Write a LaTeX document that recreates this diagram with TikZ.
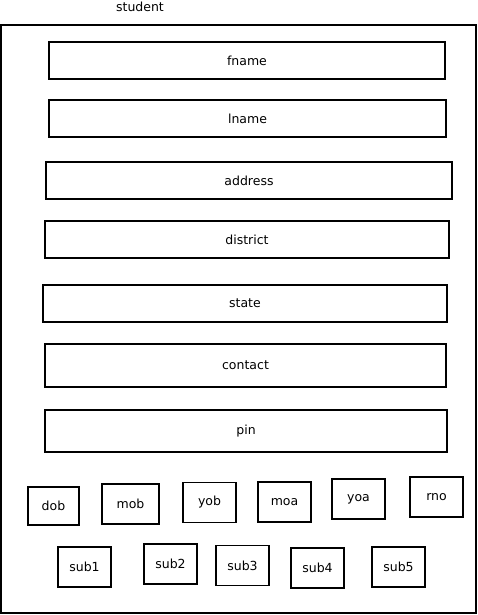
\documentclass[tikz,border=0pt]{standalone}
\usepackage{fontspec}
\setmainfont{DejaVu Sans}
\usetikzlibrary{positioning}

\tikzset{
  field/.style={draw, line width=1.5pt, inner sep=0pt, minimum height=37pt,
    font=\fontsize{12.5}{15}\selectfont},
  small/.style={field, minimum width=52pt, minimum height=39pt}
}

\begin{document}
\begin{tikzpicture}[x=1pt,y=-1pt]
  \useasboundingbox (0,0) rectangle (478,615);

  % Outer entity box
  \node[draw, line width=2pt, minimum width=475pt, minimum height=588pt] (student) at (238.5,319) {};
  \node[font=\fontsize{12.5}{15}\selectfont] (title) at (140,7) {student};

  % Long fields
  \node[field, minimum width=396pt] (fname) at (247,60.5) {fname};
  \node[field, minimum width=397pt] (lname) at (247.5,118.5) {lname};
  \node[field, minimum width=406pt] (address) at (249,180.5) {address};
  \node[field, minimum width=404pt] (district) at (247,239.5) {district};
  \node[field, minimum width=404pt] (state) at (245,303.5) {state};
  \node[field, minimum width=401pt, minimum height=43pt] (contact) at (245.5,365.5) {contact};
  \node[field, minimum width=402pt, minimum height=42pt] (pin) at (246,431) {pin};

  % Date and number fields
  \node[small, minimum width=51pt, minimum height=38pt] (dob) at (53.5,506) {dob};
  \node[small, minimum width=57pt, minimum height=40pt] (mob) at (130.5,504) {mob};
  \node[small, minimum width=53pt, minimum height=40pt] (yob) at (209.5,502.5) {yob};
  \node[small, minimum width=53pt, minimum height=40pt] (moa) at (284.5,502) {moa};
  \node[small, minimum width=53pt, minimum height=40pt] (yoa) at (358.5,499) {yoa};
  \node[small, minimum width=53pt, minimum height=40pt] (rno) at (436.5,497) {rno};

  % Subjects
  \node[small, minimum width=53pt, minimum height=40pt] (sub1) at (84.5,567) {sub1};
  \node[small, minimum width=53pt, minimum height=40pt] (sub2) at (170.5,564) {sub2};
  \node[small, minimum width=53pt, minimum height=40pt] (sub3) at (242.5,565.5) {sub3};
  \node[small, minimum width=53pt, minimum height=40pt] (sub4) at (317.5,568) {sub4};
  \node[small, minimum width=53pt, minimum height=40pt] (sub5) at (398.5,567) {sub5};
\end{tikzpicture}
\end{document}
